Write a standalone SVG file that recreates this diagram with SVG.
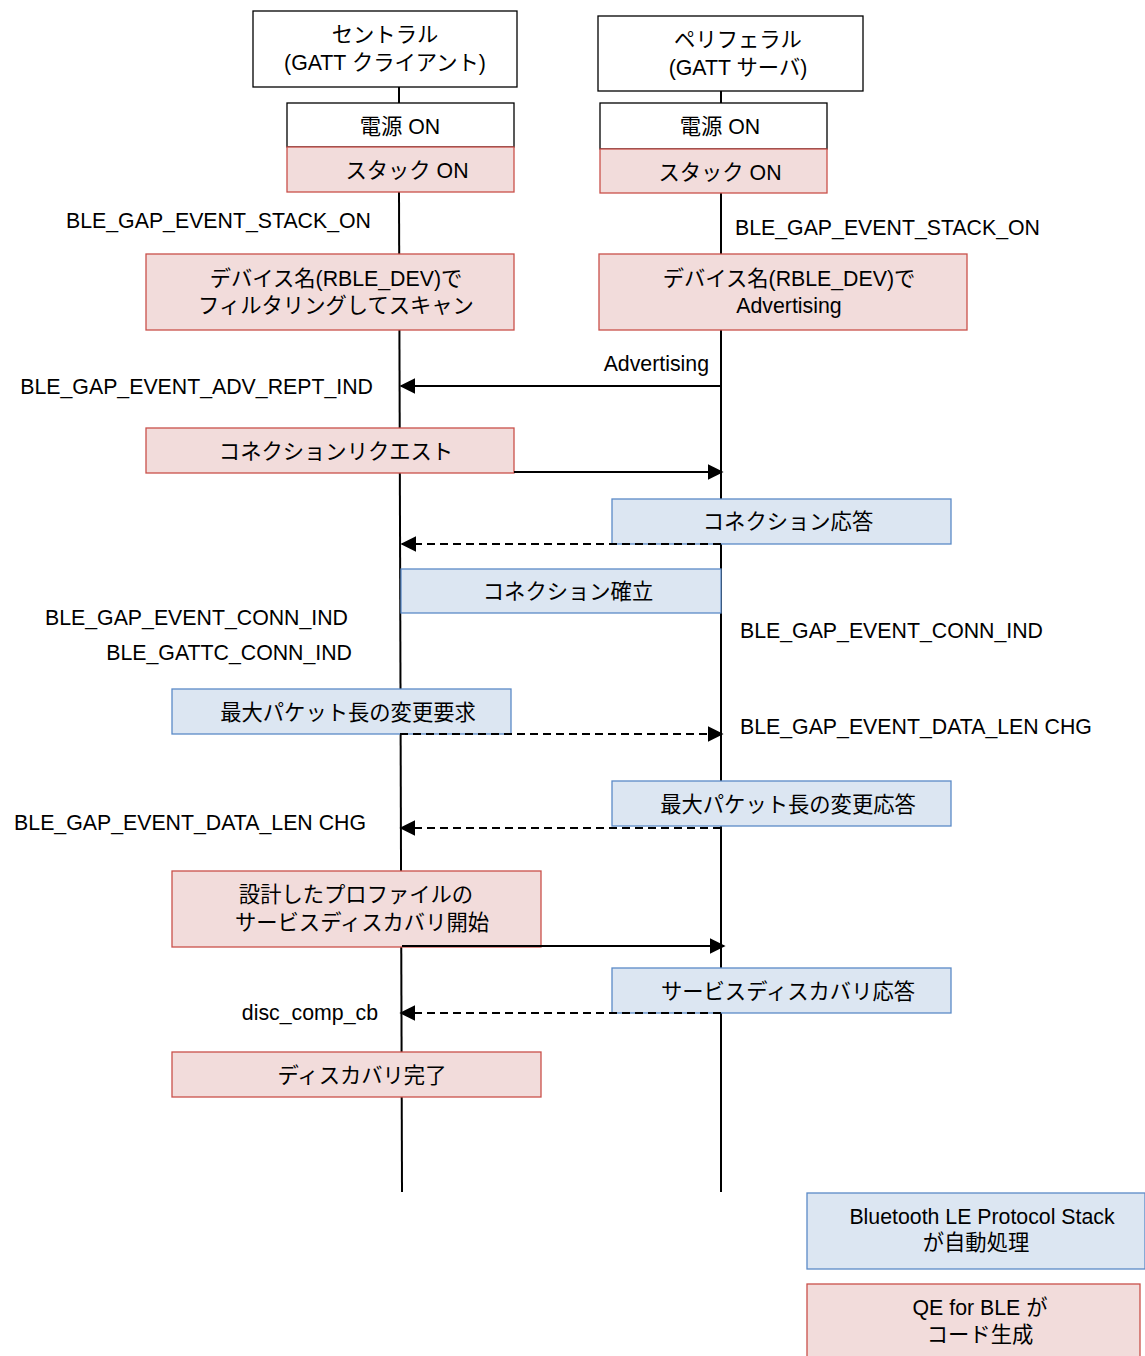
<svg xmlns="http://www.w3.org/2000/svg" width="1145" height="1356" viewBox="0 0 1145 1356">
<style>
text{font-family:"Liberation Sans","Noto Sans CJK JP",Arial,sans-serif;font-size:21.3px;fill:#000}
.c{text-anchor:middle}
.r{text-anchor:end}
.w{fill:#fff;stroke:#000;stroke-width:1.3}
.p{fill:#f2dcdb;stroke:#c9504b;stroke-width:1.3}
.b{fill:#dce6f2;stroke:#5b8ac7;stroke-width:1.3}
.ln{stroke:#000;stroke-width:2;fill:none}
.d{stroke:#000;stroke-width:2;fill:none;stroke-dasharray:8 5}
</style>
<defs>
<marker id="ah" viewBox="0 0 10 10" refX="9" refY="5" markerWidth="8" markerHeight="8" markerUnits="strokeWidth" orient="auto">
<path d="M0,0 L10,5 L0,10 z" fill="#000"/>
</marker>
</defs>
<rect width="1145" height="1356" fill="#fff"/>
<g id="lifelines">
<line class="ln" x1="399" y1="87" x2="399" y2="103"/>
<line class="ln" x1="399" y1="192" x2="402" y2="1192"/>
<line class="ln" x1="721" y1="91" x2="721" y2="103"/>
<line class="ln" x1="721" y1="193" x2="721" y2="1192"/>
</g>
<g id="central"><rect class="w" x="253" y="11" width="264" height="76"/><text class="c" x="385" y="42">セントラル</text><text class="c" x="385" y="70">(GATT クライアント)</text></g>
<g id="peripheral"><rect class="w" x="598" y="16" width="265" height="75"/><text class="c" x="738" y="47">ペリフェラル</text><text class="c" x="738" y="75">(GATT サーバ)</text></g>
<g id="c-power"><rect class="w" x="287" y="103" width="227" height="44"/><text class="c" x="400" y="134">電源 ON</text></g>
<g id="c-stack"><rect class="p" x="287" y="147" width="227" height="45"/><text class="c" x="407" y="178">スタック ON</text></g>
<g id="p-power"><rect class="w" x="600" y="103" width="227" height="46"/><text class="c" x="720" y="134">電源 ON</text></g>
<g id="p-stack"><rect class="p" x="600" y="149" width="227" height="44"/><text class="c" x="720" y="180">スタック ON</text></g>
<g id="c-scan"><rect class="p" x="146" y="254" width="368" height="76"/><text class="c" x="336" y="286">デバイス名(RBLE_DEV)で</text><text class="c" x="336" y="313">フィルタリングしてスキャン</text></g>
<g id="p-adv"><rect class="p" x="599" y="254" width="368" height="76"/><text class="c" x="789" y="286">デバイス名(RBLE_DEV)で</text><text class="c" x="789" y="313">Advertising</text></g>
<g id="conn-req"><rect class="p" x="146" y="428" width="368" height="45"/><text class="c" x="336" y="459">コネクションリクエスト</text></g>
<g id="conn-resp"><rect class="b" x="612" y="499" width="339" height="45"/><text class="c" x="788" y="529">コネクション応答</text></g>
<g id="conn-est"><rect class="b" x="401" y="569" width="320" height="44"/><text class="c" x="568" y="599">コネクション確立</text></g>
<g id="len-req"><rect class="b" x="172" y="689" width="339" height="45"/><text class="c" x="348" y="720">最大パケット長の変更要求</text></g>
<g id="len-resp"><rect class="b" x="612" y="781" width="339" height="45"/><text class="c" x="788" y="812">最大パケット長の変更応答</text></g>
<g id="disc-start"><rect class="p" x="172" y="871" width="369" height="76"/><text class="c" x="356" y="902">設計したプロファイルの</text><text class="c" x="362" y="930">サービスディスカバリ開始</text></g>
<g id="disc-resp"><rect class="b" x="612" y="968" width="339" height="45"/><text class="c" x="788" y="999">サービスディスカバリ応答</text></g>
<g id="disc-done"><rect class="p" x="172" y="1052" width="369" height="45"/><text class="c" x="362" y="1083">ディスカバリ完了</text></g>
<g id="legend-stack"><rect class="b" x="807" y="1193" width="338" height="76"/><text class="c" x="982" y="1224">Bluetooth LE Protocol Stack</text><text class="c" x="976" y="1250">が自動処理</text></g>
<g id="legend-qe"><rect class="p" x="807" y="1284" width="333" height="74"/><text class="c" x="980" y="1315">QE for BLE が</text><text class="c" x="980" y="1342">コード生成</text></g>
<g id="connectors">
<line class="ln" x1="721" y1="386" x2="401" y2="386" marker-end="url(#ah)"/>
<line class="ln" x1="514" y1="472" x2="722" y2="472" marker-end="url(#ah)"/>
<line class="d" x1="721" y1="544" x2="402" y2="544" marker-end="url(#ah)"/>
<line class="d" x1="400" y1="734" x2="722" y2="734" marker-end="url(#ah)"/>
<line class="d" x1="721" y1="828" x2="401" y2="828" marker-end="url(#ah)"/>
<line class="ln" x1="402" y1="946" x2="724" y2="946" marker-end="url(#ah)"/>
<line class="d" x1="721" y1="1013" x2="401" y2="1013" marker-end="url(#ah)"/>
</g>
<g id="labels">
<text class="r" x="371" y="228">BLE_GAP_EVENT_STACK_ON</text>
<text x="735" y="235">BLE_GAP_EVENT_STACK_ON</text>
<text class="r" x="709" y="371">Advertising</text>
<text class="r" x="373" y="394">BLE_GAP_EVENT_ADV_REPT_IND</text>
<text class="r" x="348" y="625">BLE_GAP_EVENT_CONN_IND</text>
<text class="r" x="352" y="660">BLE_GATTC_CONN_IND</text>
<text x="740" y="638">BLE_GAP_EVENT_CONN_IND</text>
<text x="740" y="734">BLE_GAP_EVENT_DATA_LEN CHG</text>
<text class="r" x="366" y="830">BLE_GAP_EVENT_DATA_LEN CHG</text>
<text class="r" x="378" y="1020">disc_comp_cb</text>
</g>
</svg>
